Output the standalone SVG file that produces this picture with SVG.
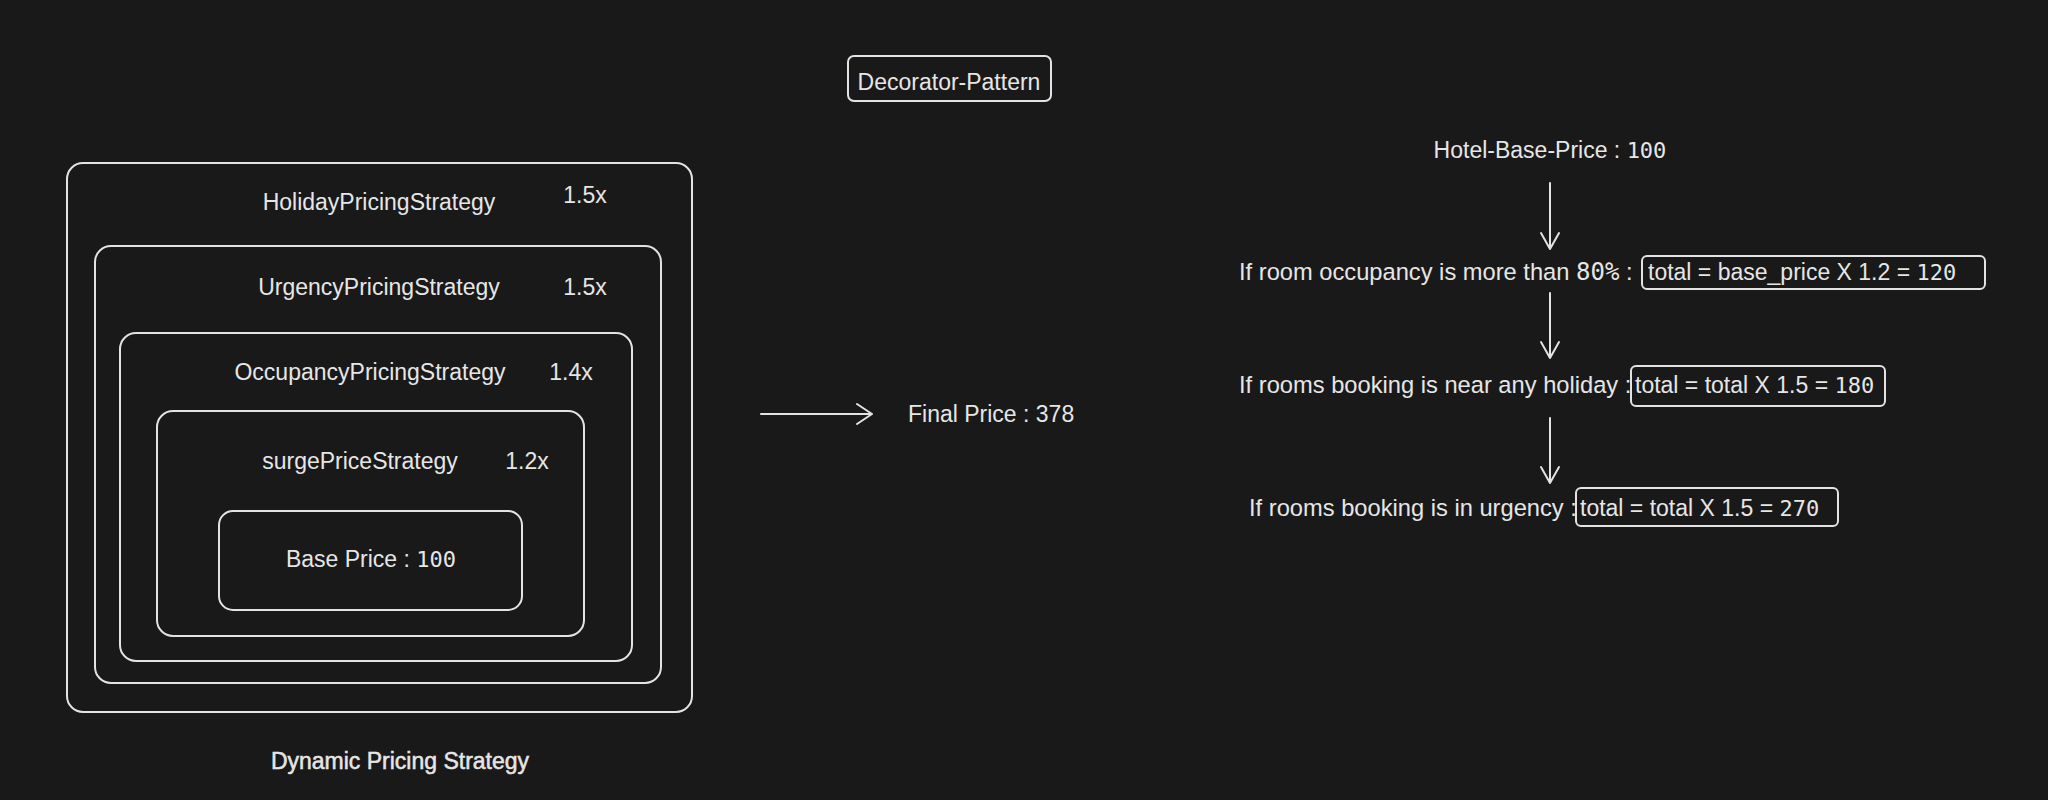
<svg xmlns="http://www.w3.org/2000/svg" width="2048" height="800" viewBox="0 0 2048 800">
<style>
.bg{fill:#191919}
.box{fill:none;stroke:#e3e3e3;stroke-width:2}
.t{font-family:"Liberation Sans",Arial,sans-serif;font-size:23px;fill:#e6e6e6}
.w{font-size:23.7px}
.m{font-family:"DejaVu Sans Mono","Liberation Mono",monospace;font-size:22px}
.c{text-anchor:middle}
.b{stroke:#e6e6e6;stroke-width:0.5}
.ln{fill:none;stroke:#e3e3e3;stroke-width:2;stroke-linecap:round;stroke-linejoin:round}
</style>
<rect class="bg" x="0" y="0" width="2048" height="800"/>

<g id="title">
<rect class="box" x="848" y="56" width="203" height="45" rx="6"/>
<text class="t c" x="949" y="90">Decorator-Pattern</text>
</g>

<g id="holiday">
<rect class="box" x="67" y="163" width="625" height="549" rx="16"/>
<text class="t c" x="379" y="210">HolidayPricingStrategy</text>
<text class="t c" x="585" y="203">1.5x</text>
</g>
<g id="urgency">
<rect class="box" x="95" y="246" width="566" height="437" rx="16"/>
<text class="t c" x="379" y="295">UrgencyPricingStrategy</text>
<text class="t c" x="585" y="295">1.5x</text>
</g>
<g id="occupancy">
<rect class="box" x="120" y="333" width="512" height="328" rx="16"/>
<text class="t c" x="370" y="380">OccupancyPricingStrategy</text>
<text class="t c" x="571" y="380">1.4x</text>
</g>
<g id="surge">
<rect class="box" x="157" y="411" width="427" height="225" rx="16"/>
<text class="t c" x="360" y="469">surgePriceStrategy</text>
<text class="t c" x="527" y="469">1.2x</text>
</g>
<g id="base">
<rect class="box" x="219" y="511" width="303" height="99" rx="14"/>
<text class="t c" x="371" y="567">Base Price : <tspan class="m">100</tspan></text>
</g>
<g id="caption">
<text class="t c b" x="400" y="769">Dynamic Pricing Strategy</text>
</g>

<g id="final">
<text class="t" x="908" y="422">Final Price : 378</text>
</g>

<g id="hotel-base">
<text class="t c" x="1550" y="158">Hotel-Base-Price : <tspan class="m">100</tspan></text>
</g>
<g id="step-occupancy">
<text class="t w" x="1239" y="280">If room occupancy is more than <tspan class="m" style="font-size:24px">80%</tspan> :</text>
<rect class="box" x="1642" y="256" width="343" height="33" rx="5"/>
<text class="t" x="1648" y="280">total = base_price X 1.2 = <tspan class="m">120</tspan></text>
</g>
<g id="step-holiday">
<text class="t w" x="1239" y="393">If rooms booking is near any holiday :</text>
<rect class="box" x="1631" y="366" width="254" height="40" rx="5"/>
<text class="t" x="1635" y="393">total = total X 1.5 = <tspan class="m">180</tspan></text>
</g>
<g id="step-urgency">
<text class="t w" x="1249" y="516">If rooms booking is in urgency :</text>
<rect class="box" x="1576" y="488" width="262" height="38" rx="5"/>
<text class="t" x="1580" y="516">total = total X 1.5 = <tspan class="m">270</tspan></text>
</g>

<g id="connectors">
<path class="ln" d="M761 414 L872 414 M857 404 L872 414 L857 424"/>
<path class="ln" d="M1550 183 L1550 249 M1541 233 L1550 249 L1559 233"/>
<path class="ln" d="M1550 293 L1550 358 M1541 342 L1550 358 L1559 342"/>
<path class="ln" d="M1550 418 L1550 483 M1541 467 L1550 483 L1559 467"/>
</g>
</svg>
